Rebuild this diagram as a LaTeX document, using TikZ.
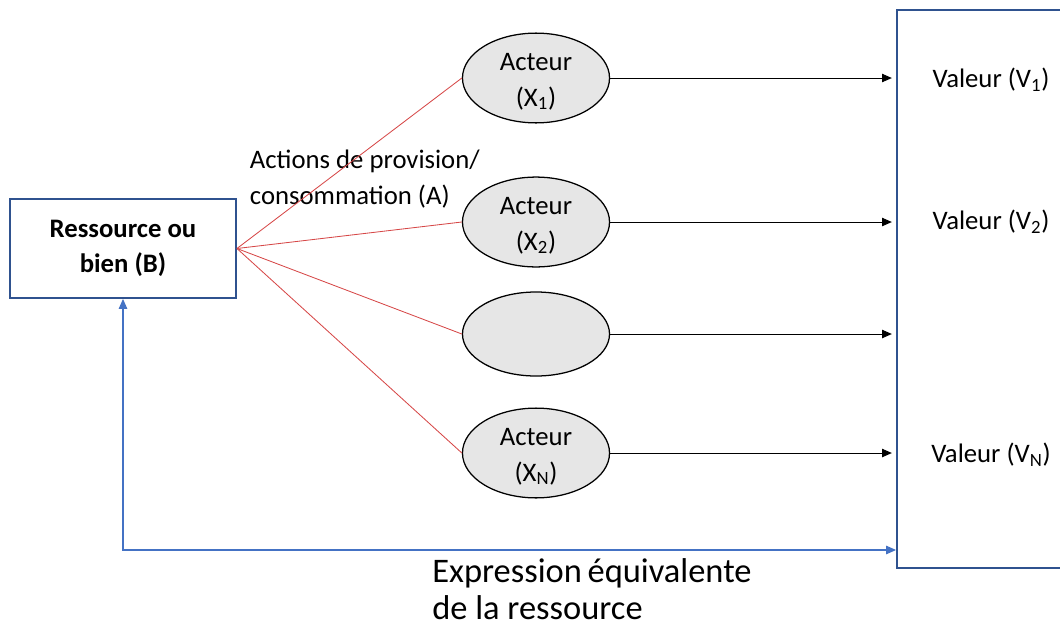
\documentclass[tikz,border=0pt]{standalone}
\usepackage{fontspec}
\setmainfont{Carlito}
\usetikzlibrary{arrows.meta}
\usetikzlibrary{positioning}
\usetikzlibrary{shapes.geometric}
\definecolor{boxblue}{RGB}{47,82,143}
\definecolor{lineblue}{RGB}{68,114,196}
\definecolor{actred}{RGB}{214,72,72}
\definecolor{ellgray}{RGB}{230,230,230}

\begin{document}
\begin{tikzpicture}[x=0.025cm,y=-0.025cm,
                every node/.style={font=\fontsize{19}{25}\selectfont},
                acteur/.style={ellipse,draw,fill=ellgray,line width=0.9pt,inner sep=0pt,
                               minimum width=3.675cm,minimum height=2.1cm,align=center},
                lien/.style={actred,line width=0.6pt},
                fleche/.style={line width=0.7pt,-{Triangle[length=7pt,width=6pt]}}]
             \useasboundingbox (0,0) rectangle (1060,625);
             \clip (0,0) rectangle (1060,625);
             % ressource
             \node[draw=boxblue,line width=1.3pt,minimum width=5.65cm,minimum height=2.475cm,
                   align=center,font=\fontsize{19}{25}\selectfont\bfseries] (B) at (123,248.5)
                   {Ressource ou\\bien (B)};
             % acteurs
             \node[acteur] (e1) at (536,78) {\strut Acteur\\(X\textsubscript{1})};
             \node[acteur] (e2) at (536,222) {\strut Acteur\\(X\textsubscript{2})};
             \node[acteur] (e3) at (536,334) {};
             \node[acteur] (eN) at (536,453) {\strut Acteur\\(X\textsubscript{N})};
             % valeurs
             \node[draw=boxblue,line width=1.3pt,minimum width=4.325cm,minimum height=13.95cm] (V) at (983.5,289) {};
             \node (v1) at (991,80) {Valeur (V\textsubscript{1})};
             \node (v2) at (991,222) {Valeur (V\textsubscript{2})};
             \node (vN) at (991,455) {Valeur (V\textsubscript{N})};
             \node[anchor=west,align=left] (act) at (245,179) {Actions de provision/\\consommation (A)};
             \node[anchor=west,align=left,inner sep=0pt,font=\fontsize{24.5}{26.3}\selectfont] (expr) at (432,589)
                   {Expression\,équivalente\\de la ressource};
             \foreach \e in {e1,e2,e3,eN}{
                \draw[lien] (B.east) -- (\e.west);
                \draw[fleche,shorten >=3pt] (\e.east) -- (\e.east -| V.west);
             }
             \coordinate (coin) at (123,550);
             \draw[lineblue,line width=0.75pt,{Triangle[length=7pt,width=6pt]}-{Triangle[length=7pt,width=6pt]}]
                   (B.south) -- (coin) -- (coin -| V.west);
\end{tikzpicture}
\end{document}
